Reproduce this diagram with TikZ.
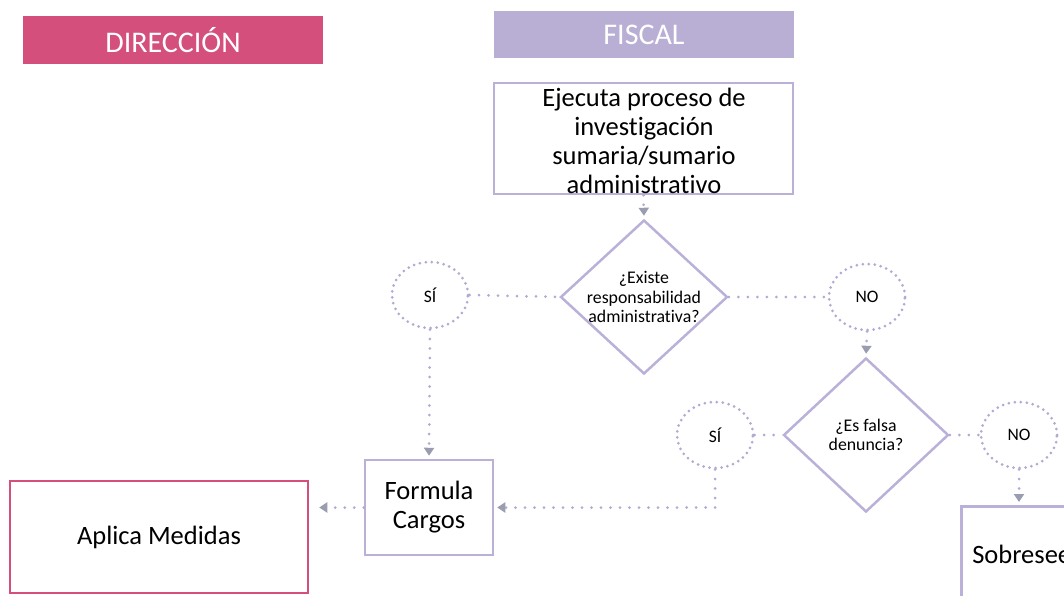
\documentclass[tikz,border=0pt]{standalone}
\usepackage{fontspec}
\setmainfont{Carlito}[Ligatures={NoCommon}]
\usetikzlibrary{shapes.geometric,arrows.meta}
\definecolor{dirpink}{HTML}{D44F7C}
\definecolor{fisclav}{HTML}{B9AFD5}
\definecolor{boxlav}{HTML}{BBB1D8}
\definecolor{dotlav}{HTML}{B2AAD2}
\definecolor{tipgray}{HTML}{9A9CB0}
\tikzset{
  header/.style={rectangle, minimum width=300, minimum height=48, inner sep=0pt, text=white, font=\fontsize{30}{34}\selectfont},
  procbox/.style={rectangle, draw=boxlav, line width=2.5pt, fill=white, inner sep=0pt, align=center, font=\fontsize{26.5}{29}\selectfont},
  dirbox/.style={procbox, draw=dirpink},
  decision/.style={diamond, draw=boxlav, line width=2.5pt, inner sep=-10pt, minimum width=167, minimum height=154, align=center, font=\fontsize{17.8}{19.5}\selectfont},
  answer/.style={ellipse, draw=dotlav, line width=3pt, line cap=round, dash pattern=on 0pt off 6pt, minimum width=76, minimum height=66, inner sep=0pt, font=\fontsize{17.5}{20}\selectfont},
  link/.style={draw=dotlav, line width=3pt, line cap=round, dash pattern=on 0pt off 9.5pt},
  flow/.style={link, -{Triangle[width=10pt,length=8pt,color=tipgray]}, shorten >=3pt},
}
\begin{document}
\begin{tikzpicture}[x=1pt,y=-1pt]
\useasboundingbox (0,0) rectangle (1064,595);
\clip (0,0) rectangle (1064,595);
% headers
\node[header, fill=dirpink] (hdir) at (173,40) {DIRECCIÓN};
\node[header, fill=fisclav, minimum height=47] (hfis) at (644,34.5) {FISCAL};
% boxes
\node[procbox, minimum width=299, minimum height=111] (ejec) at (643.5,138.5) {};
\node[align=center, inner sep=0pt, font=\fontsize{26.5}{29}\selectfont] (ejectxt) at (644,141) {Ejecuta proceso de\\investigación\\sumaria/sumario\\administrativo};
\node[decision] (d1) at (644,297) {¿Existe\\responsabilidad\\administrativa?};
\node[answer] (s1) at (430,295) {SÍ};
\node[answer] (n1) at (867,297) {NO};
\node[decision, minimum width=165] (d2) at (866,435) {¿Es falsa\\denuncia?};
\node[answer] (s2) at (715,435) {SÍ};
\node[answer] (n2) at (1019,435) {NO};
\node[procbox, minimum width=128, minimum height=95] (fc) at (429,507.5) {Formula\\Cargos};
\node[dirbox, minimum width=298, minimum height=112] (am) at (159,537) {Aplica Medidas};
\node[procbox, anchor=north west, text width=130, inner xsep=11pt, align=left, minimum height=96] (sob) at (960,505) {Sobresee};
% connectors
\draw[flow] (ejec.south) -- (d1.north);
\draw[link] (s1.east) -- (d1.west);
\draw[link] (d1.east) -- (n1.west);
\draw[flow] (s1.south) -- (fc.north);
\draw[flow] (n1.south) -- (d2.north);
\draw[link] (s2.east) -- (d2.west);
\draw[link] (d2.east) -- (n2.west);
\draw[flow] (s2.south) |- (fc.east);
\draw[flow] (n2.south) -- (n2.south |- sob.north);
\draw[flow, shorten >=10pt] (fc.west) -- (fc.west -| am.east);
\end{tikzpicture}
\end{document}
